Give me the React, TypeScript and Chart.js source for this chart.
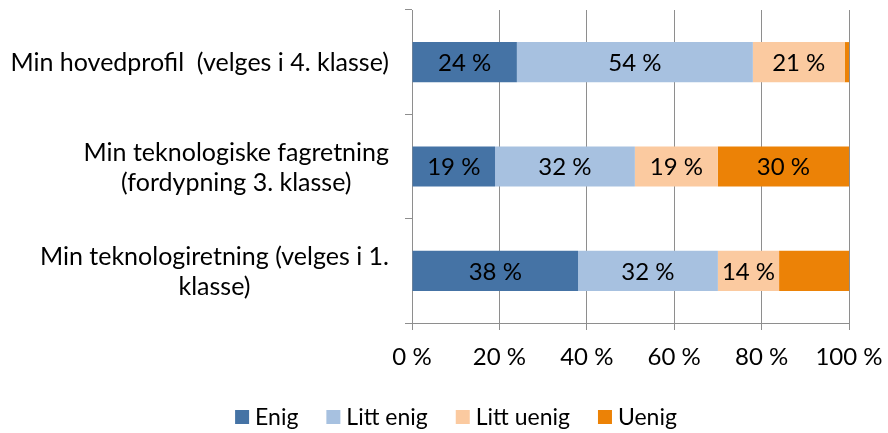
import React, { useEffect, useRef } from 'react';
import { Chart, registerables } from 'chart.js';

Chart.register(...registerables);

const categories: string[][] = [
  ['Min hovedprofil  (velges i 4. klasse)'],
  ['Min teknologiske fagretning', '(fordypning 3. klasse)'],
  ['Min teknologiretning (velges i 1.', 'klasse)'],
];
const seriesNames = ['Enig', 'Litt enig', 'Litt uenig', 'Uenig'];
const enig = [24, 19, 38];
const littEnig = [54, 32, 32];
const littUenig = [21, 19, 14];
const uenig = [1, 30, 16];
const xTicks = [0, 20, 40, 60, 80, 100];
// which value labels are printed in the original (per series, per category)
const labelShown = [
  [true, true, true],
  [true, true, true],
  [true, true, true],
  [false, true, false],
];

const colors = ['#4573A5', '#A7C1E0', '#FBCAA0', '#EC8206'];
const FONT = 'Lato, "Open Sans", sans-serif';
const GRID = '#8E8E8E';

const categoryLabelPlugin = {
  id: 'categoryLabels',
  afterDraw(chart: any) {
    const ctx = chart.ctx;
    const y = chart.scales.y;
    ctx.save();
    ctx.font = `25px ${FONT}`;
    ctx.fillStyle = '#000';
    ctx.textAlign = 'center';
    ctx.textBaseline = 'middle';
    const right = y.right - 23;
    const lh = 30;
    categories.forEach((lines, i) => {
      const w = Math.max(...lines.map((l) => ctx.measureText(l).width));
      const cx = right - w / 2;
      const cy = y.getPixelForValue(i);
      lines.forEach((l, j) => {
        ctx.fillText(l, cx, cy + 1 + (j - (lines.length - 1) / 2) * lh);
      });
    });
    ctx.restore();
  },
};

const valueLabelPlugin = {
  id: 'valueLabels',
  afterDatasetsDraw(chart: any) {
    const ctx = chart.ctx;
    ctx.save();
    ctx.font = `24px ${FONT}`;
    ctx.fillStyle = '#000';
    ctx.textAlign = 'center';
    ctx.textBaseline = 'middle';
    chart.data.datasets.forEach((ds: any, di: number) => {
      const meta = chart.getDatasetMeta(di);
      meta.data.forEach((bar: any, i: number) => {
        if (!labelShown[di][i]) return;
        const v = ds.data[i];
        const cx = (bar.x + bar.base) / 2;
        ctx.fillText(`${v} %`, cx, bar.y + 1);
      });
    });
    ctx.restore();
  },
};

const legendPlugin = {
  id: 'customLegend',
  afterDraw(chart: any) {
    const ctx = chart.ctx;
    ctx.save();
    ctx.font = `23px ${FONT}`;
    ctx.textBaseline = 'middle';
    ctx.textAlign = 'left';
    const box = 14;
    const gapText = 6;
    const gapItem = 28;
    const widths = chart.data.datasets.map((ds: any) => box + gapText + ctx.measureText(ds.label).width);
    const total = widths.reduce((a: number, b: number) => a + b, 0) + gapItem * (widths.length - 1);
    let x = 456 - total / 2;
    const cy = 417;
    chart.data.datasets.forEach((ds: any, i: number) => {
      ctx.fillStyle = ds.backgroundColor;
      ctx.fillRect(x, cy - box / 2, box, box);
      ctx.fillStyle = '#000';
      ctx.fillText(ds.label, x + box + gapText, cy + 1);
      x += widths[i] + gapItem;
    });
    ctx.restore();
  },
};

export default function App() {
  const ref = useRef<HTMLCanvasElement | null>(null);

  useEffect(() => {
    if (!ref.current) return;
    const series = [enig, littEnig, littUenig, uenig];
    const chart = new Chart(ref.current, {
      type: 'bar',
      data: {
        labels: categories.map((c) => c.join(' ')),
        datasets: series.map((d, i) => ({
          label: seriesNames[i],
          data: d,
          backgroundColor: colors[i],
          borderWidth: 0,
          barPercentage: 0.385,
          categoryPercentage: 1,
        })),
      },
      options: {
        indexAxis: 'y',
        animation: false,
        responsive: true,
        maintainAspectRatio: false,
        layout: { padding: { top: 10, right: 39, bottom: 48, left: 0 } },
        plugins: {
          tooltip: { enabled: false },
          legend: { display: false },
        },
        scales: {
          x: {
            stacked: true,
            min: 0,
            max: 100,
            afterBuildTicks: (s: any) => {
              s.ticks = xTicks.map((v) => ({ value: v }));
            },
            afterFit: (s: any) => {
              s.height = 62;
              s.paddingRight = 0;
              s.paddingLeft = 0;
            },
            ticks: {
              color: '#000',
              padding: 13,
              font: { family: FONT, size: 24 },
              callback: (v: any) => `${v} %`,
            },
            grid: { color: GRID, tickLength: 7, lineWidth: 1 },
            border: { color: GRID },
          },
          y: {
            stacked: true,
            afterFit: (s: any) => {
              s.width = 412;
            },
            ticks: { display: false },
            grid: {
              offset: true,
              drawOnChartArea: false,
              drawTicks: true,
              tickLength: 7,
              color: GRID,
            },
            border: { color: GRID },
          },
        },
      },
      plugins: [categoryLabelPlugin, valueLabelPlugin, legendPlugin],
    } as any);
    return () => chart.destroy();
  }, []);

  return (
    <div style={{ position: 'fixed', left: 0, top: 0, width: 888, height: 433, background: '#fff' }}>
      <canvas ref={ref} />
    </div>
  );
}
